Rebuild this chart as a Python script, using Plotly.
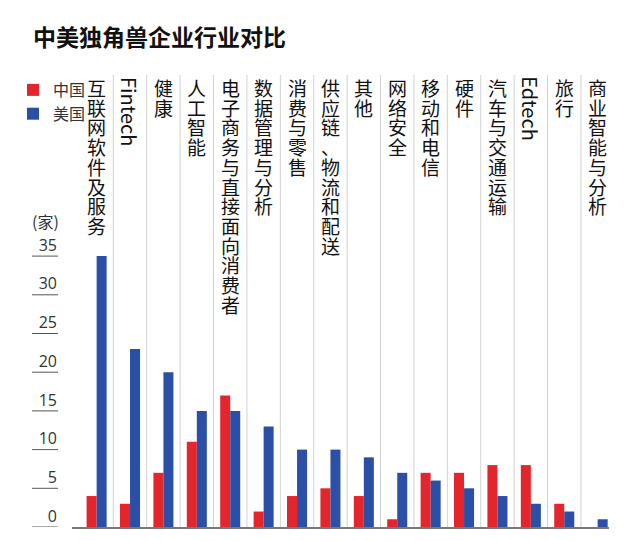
import plotly.graph_objects as go

# ---- data ----
categories = ["互联网软件及服务", "Fintech", "健康", "人工智能", "电子商务与直接面向消费者",
              "数据管理与分析", "消费与零售", "供应链、物流和配送", "其他", "网络安全",
              "移动和电信", "硬件", "汽车与交通运输", "Edtech", "旅行", "商业智能与分析"]
china = [4, 3, 7, 11, 17, 2, 4, 5, 4, 1, 7, 7, 8, 8, 3, 0]
usa = [35, 23, 20, 15, 15, 13, 10, 10, 9, 7, 6, 5, 4, 3, 2, 1]
y_ticks = [0, 5, 10, 15, 20, 25, 30, 35]
series_names = ["中国", "美国"]
title_text = "中美独角兽企业行业对比"
unit_text = "(家)"

RED = "#e4262c"
BLUE = "#2b4fa6"
CJK = "Noto Sans CJK SC"

W, H = 640, 541
ML, MR, MT, MB = 72, 31, 75, 14
PW = W - ML - MR
PH = H - MT - MB

fig = go.Figure()
fig.add_trace(go.Bar(x=categories, y=china, name=series_names[0],
                     marker=dict(color=RED, line=dict(width=0))))
fig.add_trace(go.Bar(x=categories, y=usa, name=series_names[1],
                     marker=dict(color=BLUE, line=dict(width=0))))

shapes = []
# separators between categories
for i in range(len(categories) - 1):
    shapes.append(dict(type="line", xref="x", yref="paper",
                       x0=i + 0.5, x1=i + 0.5, y0=0, y1=1,
                       line=dict(color="#d2d2d2", width=1), layer="below"))
# underline for tick labels
for v in y_ticks:
    shapes.append(dict(type="line", xref="paper", yref="y",
                       x0=(32 - ML) / PW, x1=(58 - ML) / PW, y0=v, y1=v,
                       line=dict(color="#555555", width=1)))

annotations = []
PITCH = 19.7
BASE = PITCH / 1.3  # annotation font size so that the line pitch equals PITCH
for i, cat in enumerate(categories):
    if cat.isascii():
        annotations.append(dict(xref="x", yref="paper", x=i, y=1,
                                text=cat, showarrow=False, textangle=90,
                                xanchor="center", yanchor="middle",
                                yshift=-(36 if cat == "Fintech" else 34),
                                font=dict(family=CJK, size=20, color="#111111")))
    else:
        txt = "<br>".join("<span style='font-size:19px'>%s</span>" % ch for ch in cat)
        annotations.append(dict(xref="x", yref="paper", x=i, y=1,
                                text=txt, showarrow=False,
                                xanchor="center", yanchor="top", yshift=3,
                                font=dict(family=CJK, size=BASE, color="#111111")))
annotations.append(dict(xref="paper", yref="paper", x=(45 - ML) / PW,
                        y=(H - MB - 221) / PH, text=unit_text, showarrow=False,
                        xanchor="center", yanchor="middle",
                        font=dict(family=CJK, size=16, color="#333333")))

fig.update_layout(
    width=W, height=H, autosize=False,
    margin=dict(l=ML, r=MR, t=MT, b=MB, pad=0),
    paper_bgcolor="white", plot_bgcolor="white",
    barmode="group", bargap=0.4, bargroupgap=0,
    title=dict(text=title_text, xref="container", yref="container",
               x=33 / W, xanchor="left", y=1 - 38 / H, yanchor="middle",
               font=dict(family=CJK, size=23, color="#111111", weight="bold")),
    legend=dict(x=(13 - ML) / PW, xanchor="left", y=(H - MB - 73) / PH, yanchor="top",
                orientation="v", bgcolor="rgba(0,0,0,0)",
                font=dict(family=CJK, size=16, color="#333333"),
                itemclick=False, itemdoubleclick=False),
    xaxis=dict(type="category", range=[-0.737, 15.34], showticklabels=False,
               showgrid=False, zeroline=False, showline=True,
               linecolor="#777777", linewidth=1.5, ticks="", fixedrange=True),
    yaxis=dict(range=[0, PH / 7.74], tickvals=y_ticks, showgrid=False,
               zeroline=False, showline=False, ticks="",
               ticklabelstandoff=14, ticklabelshift=-11,
               tickfont=dict(family="Open Sans", size=16, color="#333333"),
               fixedrange=True),
    shapes=shapes, annotations=annotations,
)

fig.write_html("out.html")
